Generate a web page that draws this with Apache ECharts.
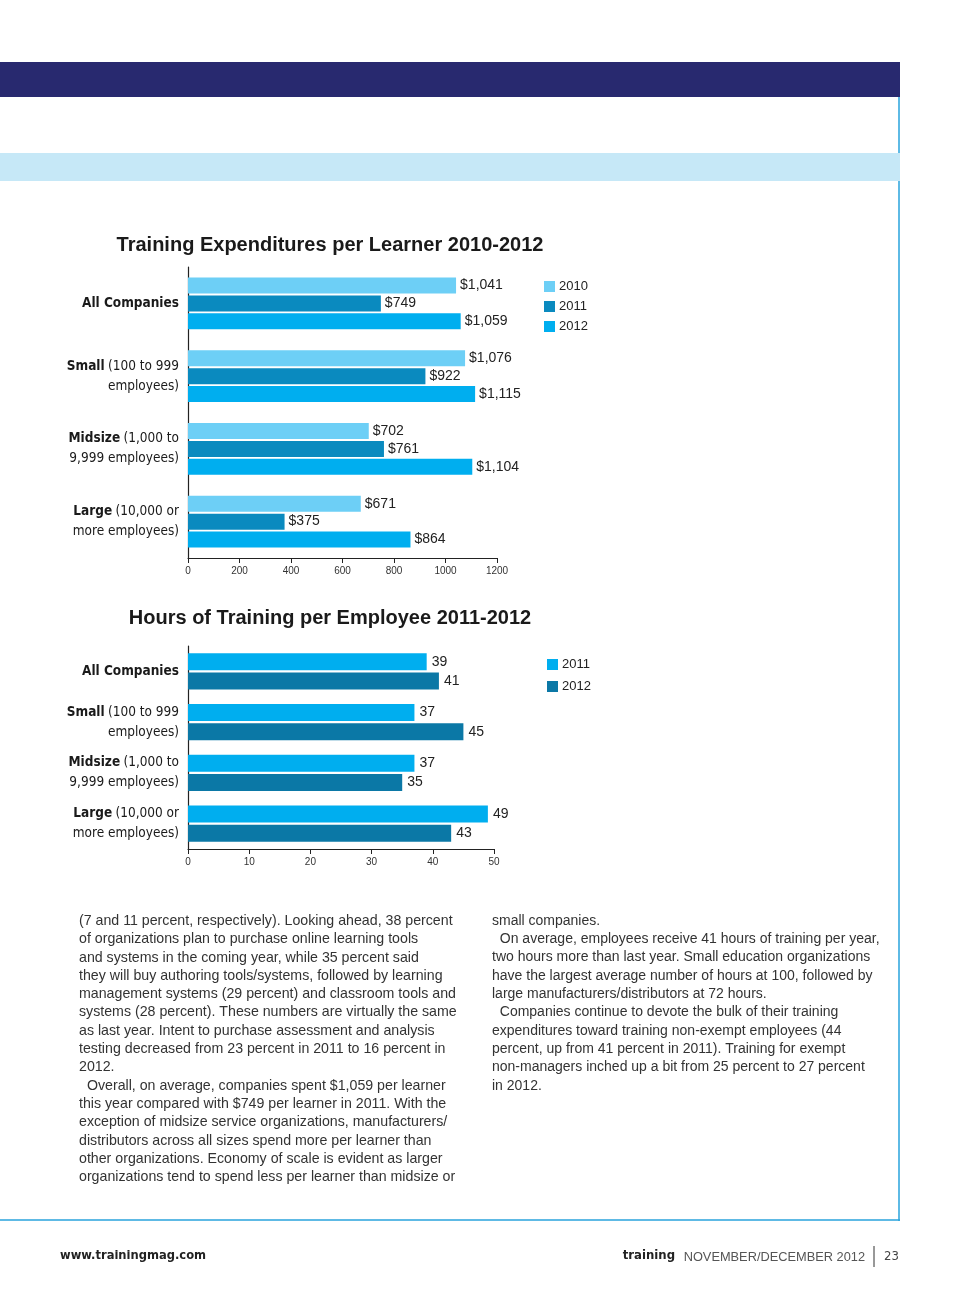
<!DOCTYPE html>
<html>
<head>
<meta charset="utf-8">
<script src="https://cdn.jsdelivr.net/npm/echarts@6/dist/echarts.min.js"></script>
<style>
html,body{margin:0;padding:0;background:#fff;}
#chart{width:960px;height:1291px;}
</style>
</head>
<body>
<div id="chart"></div>
<script>
// ---------- data ----------
var categories = ['All Companies', 'Small', 'Midsize', 'Large'];
var catDetail1 = ['', '(100 to 999', '(1,000 to', '(10,000 or'];
var catDetail2 = ['', 'employees)', '9,999 employees)', 'more employees)'];

var expYears = ['2010', '2011', '2012'];
var exp2010 = [1041, 1076, 702, 671];
var exp2011 = [749, 922, 761, 375];
var exp2012 = [1059, 1115, 1104, 864];

var hourYears = ['2011', '2012'];
var hours2011 = [39, 37, 37, 49];
var hours2012 = [41, 45, 35, 43];

var title1 = 'Training Expenditures per Learner 2010-2012';
var title2 = 'Hours of Training per Employee 2011-2012';

var leftColumn = [
  '(7 and 11 percent, respectively). Looking ahead, 38 percent',
  'of organizations plan to purchase online learning tools',
  'and systems in the coming year, while 35 percent said',
  'they will buy authoring tools/systems, followed by learning',
  'management systems (29 percent) and classroom tools and',
  'systems (28 percent). These numbers are virtually the same',
  'as last year. Intent to purchase assessment and analysis',
  'testing decreased from 23 percent in 2011 to 16 percent in',
  '2012.',
  '  Overall, on average, companies spent $1,059 per learner',
  'this year compared with $749 per learner in 2011. With the',
  'exception of midsize service organizations, manufacturers/',
  'distributors across all sizes spend more per learner than',
  'other organizations. Economy of scale is evident as larger',
  'organizations tend to spend less per learner than midsize or'
];
var rightColumn = [
  'small companies.',
  '  On average, employees receive 41 hours of training per year,',
  'two hours more than last year. Small education organizations',
  'have the largest average number of hours at 100, followed by',
  'large manufacturers/distributors at 72 hours.',
  '  Companies continue to devote the bulk of their training',
  'expenditures toward training non-exempt employees (44',
  'percent, up from 41 percent in 2011). Training for exempt',
  'non-managers inched up a bit from 25 percent to 27 percent',
  'in 2012.'
];

// ---------- styling ----------
var NARROW = '"Liberation Sans Narrow","DejaVu Sans Condensed","Arial Narrow",sans-serif';
var SANS = '"Liberation Sans",Arial,sans-serif';
var expColors = ['#6dcff6', '#0a8abf', '#00aeef'];
var hourColors = ['#00aeef', '#0b78a6'];

function money(v) {
  return '$' + String(v).replace(/\B(?=(\d{3})+(?!\d))/g, ',');
}

function catLabel(value) {
  var i = categories.indexOf(value);
  if (!catDetail1[i]) return '{b|' + value + '}';
  return '{b|' + value + '} {r|' + catDetail1[i] + '}\n{r|' + catDetail2[i] + '}';
}
var catRich = {
  b: {fontFamily: NARROW, fontWeight: 'bold', fontSize: 13.5, color: '#1a1a1a', lineHeight: 20},
  r: {fontFamily: NARROW, fontSize: 13.5, color: '#1a1a1a', lineHeight: 20}
};

function valueAxis(gridIndex, max, interval) {
  return {
    type: 'value', gridIndex: gridIndex, min: 0, max: max, interval: interval,
    splitLine: {show: false},
    axisLine: {show: true, lineStyle: {color: '#222', width: 1.2}},
    axisTick: {show: true, inside: false, length: 5, lineStyle: {color: '#222'}},
    axisLabel: {fontFamily: SANS, fontSize: 10, color: '#333', margin: 8,
      formatter: function (v) { return String(v); }}
  };
}
function catAxis(gridIndex) {
  return {
    type: 'category', gridIndex: gridIndex, data: categories, inverse: true,
    axisLine: {show: true, lineStyle: {color: '#222', width: 1.2}},
    axisTick: {show: false},
    axisLabel: {formatter: catLabel, rich: catRich, align: 'right', margin: 9}
  };
}

var series = [];
var expData = [exp2010, exp2011, exp2012];
expYears.forEach(function (y, k) {
  series.push({
    name: 'Exp ' + y, type: 'bar', xAxisIndex: 0, yAxisIndex: 0,
    data: expData[k], barWidth: 16, barGap: '12%',
    itemStyle: {color: expColors[k]},
    label: {show: true, position: 'right', distance: 4, fontFamily: SANS, fontSize: 14, color: '#222',
      formatter: function (p) { return money(p.value); }}
  });
});
var hourData = [hours2011, hours2012];
hourYears.forEach(function (y, k) {
  series.push({
    name: 'Hrs ' + y, type: 'bar', xAxisIndex: 1, yAxisIndex: 1,
    data: hourData[k], barWidth: 17, barGap: '12%',
    itemStyle: {color: hourColors[k]},
    label: {show: true, position: 'right', distance: 5, fontFamily: SANS, fontSize: 14, color: '#222'}
  });
});

// ---------- page graphics ----------
var graphics = [
  {type: 'rect', shape: {x: 0, y: 62, width: 900, height: 35}, style: {fill: '#28296f'}},
  {type: 'rect', shape: {x: 0, y: 153, width: 900, height: 28}, style: {fill: '#c6e8f7'}},
  {type: 'line', shape: {x1: 899, y1: 97, x2: 899, y2: 153}, style: {stroke: '#29a3dd', lineWidth: 1.5}},
  {type: 'line', shape: {x1: 899, y1: 181, x2: 899, y2: 1221}, style: {stroke: '#29a3dd', lineWidth: 1.5}},
  {type: 'line', shape: {x1: 0, y1: 1220, x2: 900, y2: 1220}, style: {stroke: '#29a3dd', lineWidth: 1.5}},
  {type: 'text', x: 60, y: 1256, style: {text: 'www.trainingmag.com', fontFamily: NARROW, fontWeight: 'bold', fontSize: 12.8, fill: '#222', verticalAlign: 'middle'}},
  {type: 'text', x: 675, y: 1256, style: {text: 'training', fontFamily: NARROW, fontWeight: 'bold', fontSize: 13, fill: '#222', align: 'right', verticalAlign: 'middle'}},
  {type: 'text', x: 865, y: 1257, style: {text: 'NOVEMBER/DECEMBER 2012', fontFamily: SANS, fontSize: 12.8, fill: '#555', align: 'right', verticalAlign: 'middle'}},
  {type: 'line', shape: {x1: 874, y1: 1246, x2: 874, y2: 1267}, style: {stroke: '#333', lineWidth: 1}},
  {type: 'text', x: 884, y: 1257, style: {text: '23', fontFamily: NARROW, fontSize: 13, fill: '#444', verticalAlign: 'middle'}}
];
var lineH = 18.3;
leftColumn.forEach(function (t, i) {
  graphics.push({type: 'text', x: 79, y: 921 + i * lineH,
    style: {text: t, fontFamily: SANS, fontSize: 14.2, fill: '#333', verticalAlign: 'middle'}});
});
rightColumn.forEach(function (t, i) {
  graphics.push({type: 'text', x: 492, y: 921 + i * lineH,
    style: {text: t, fontFamily: SANS, fontSize: 14, fill: '#333', verticalAlign: 'middle'}});
});

var option = {
  animation: false,
  backgroundColor: '#fff',
  title: [
    {text: title1, left: 330, top: 235, textAlign: 'center', padding: 0,
      textStyle: {fontFamily: SANS, fontWeight: 'bold', fontSize: 20, color: '#1a1a1a'}},
    {text: title2, left: 330, top: 608, textAlign: 'center', padding: 0,
      textStyle: {fontFamily: SANS, fontWeight: 'bold', fontSize: 20, color: '#1a1a1a'}}
  ],
  legend: [
    {data: expYears.map(function (y) { return 'Exp ' + y; }), orient: 'vertical', left: 544, top: 280,
      itemWidth: 11, itemHeight: 11, itemGap: 7, icon: 'rect', selectedMode: false, padding: 0,
      formatter: function (n) { return n.split(' ')[1]; },
      textStyle: {fontFamily: SANS, fontSize: 13, color: '#222', padding: [0, 0, 0, -1]}},
    {data: hourYears.map(function (y) { return 'Hrs ' + y; }), orient: 'vertical', left: 547, top: 658,
      itemWidth: 11, itemHeight: 11, itemGap: 9, icon: 'rect', selectedMode: false, padding: 0,
      formatter: function (n) { return n.split(' ')[1]; },
      textStyle: {fontFamily: SANS, fontSize: 13, color: '#222', padding: [0, 0, 0, -1]}}
  ],
  grid: [
    {left: 188, width: 309, top: 267, height: 291, containLabel: false},
    {left: 188, width: 306, top: 646, height: 203, containLabel: false}
  ],
  xAxis: [valueAxis(0, 1200, 200), valueAxis(1, 50, 10)],
  yAxis: [catAxis(0), catAxis(1)],
  series: series,
  graphic: graphics
};

var chart = echarts.init(document.getElementById('chart'), null, {renderer: 'canvas'});
chart.setOption(option);
</script>
</body>
</html>
